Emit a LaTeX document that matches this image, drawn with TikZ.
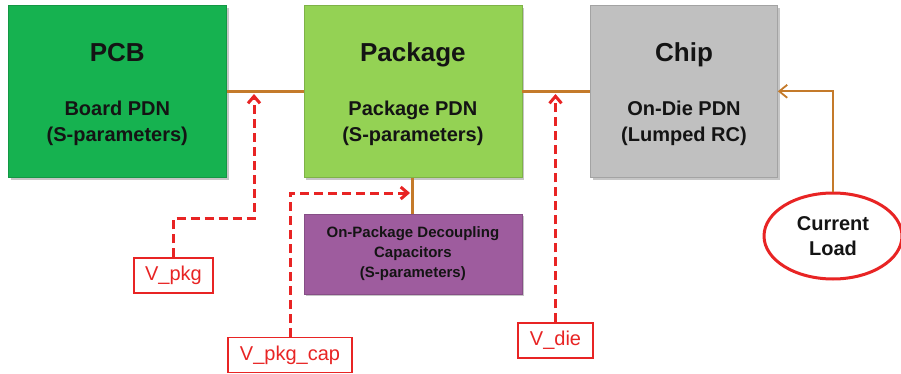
\documentclass[tikz,border=0pt]{standalone}
\usepackage{fontspec}
\setmainfont{Liberation Sans}
\usepackage{tikz}
\usetikzlibrary{shapes.geometric,arrows.meta,positioning,shadows}
\definecolor{pcbgreen}{RGB}{22,178,80}
\definecolor{pkggreen}{RGB}{148,210,84}
\definecolor{chipgray}{RGB}{192,192,192}
\definecolor{capviolet}{RGB}{158,92,158}
\definecolor{railbrown}{RGB}{196,122,42}
\definecolor{probered}{RGB}{232,36,36}
\definecolor{inkdark}{RGB}{20,20,20}
\tikzset{
  block/.style={rectangle, draw=#1!85!black, line width=0.6pt, fill=#1,
    minimum width=218pt, minimum height=172pt, inner sep=0pt,
    drop shadow={opacity=0.45, shadow xshift=2.5pt, shadow yshift=-2.5pt}},
  ttl/.style={font=\bfseries\fontsize{26}{30}\selectfont, text=inkdark,
    anchor=base, inner sep=0pt},
  sub/.style={font=\bfseries\fontsize{20}{26}\selectfont, text=inkdark,
    align=center, inner sep=0pt},
  rail/.style={railbrown, line width=3pt},
  feed/.style={-{Straight Barb[length=8pt, width=13pt]}, railbrown, line width=1.8pt},
  probe/.style={-{Straight Barb[length=7pt, width=12pt]}, probered,
    line width=3pt, dash pattern=on 9pt off 5pt},
  tag/.style={rectangle, draw=probered, line width=1.5pt, fill=white,
    text=probered, font=\fontsize{20}{24}\selectfont, minimum height=35pt,
    inner xsep=5pt},
  load/.style={ellipse, draw=probered, line width=3pt, fill=white,
    minimum width=138pt, minimum height=86pt, inner sep=0pt, align=center,
    font=\bfseries\fontsize{20}{25}\selectfont, text=inkdark}
}
\begin{document}
\begin{tikzpicture}[x=1pt, y=-1pt, node distance=77pt]
  \useasboundingbox (0,0) rectangle (901,374);
  % main blocks
  \node[block=pcbgreen, anchor=north west] (pcb) at (8,5) {};
  \node[block=pkggreen, right=of pcb] (pkg) {};
  \node[block=chipgray, minimum width=187pt, right=68pt of pkg] (chip) {};
  \node[block=capviolet, minimum height=80pt, below=36pt of pkg, align=center,
    text=inkdark, font=\bfseries\fontsize{15}{20}\selectfont] (cap)
    {On-Package Decoupling\\Capacitors\\(S-parameters)};
  \node[ttl] (pcbT) at ([yshift=-57pt]pcb.north) {PCB};
  \node[sub] (pcbS) at ([yshift=-32pt]pcb.center) {Board PDN\\(S-parameters)};
  \node[ttl] (pkgT) at ([yshift=-57pt]pkg.north) {Package};
  \node[sub] (pkgS) at ([yshift=-32pt]pkg.center) {Package PDN\\(S-parameters)};
  \node[ttl] (chipT) at ([yshift=-57pt]chip.north) {Chip};
  \node[sub] (chipS) at ([yshift=-32pt]chip.center) {On-Die PDN\\(Lumped RC)};
  % load and probes
  \node[load] (load) at (833,236) {Current\\Load};
  \node[tag, minimum width=79pt] (vpkg) at (173.5,275.5) {V\_pkg};
  \node[tag, minimum width=124pt] (vcap) at (290,355) {V\_pkg\_cap};
  \node[tag, minimum width=75pt] (vdie) at (555.5,340.5) {V\_die};
  \coordinate (tapPkg) at (254,94);
  \coordinate (tapDie) at (556,94);
  \coordinate (tapCap) at (410,193);
  \draw[rail] (pcb.east) -- (pkg.west);
  \draw[rail] (pkg.east) -- (chip.west);
  \draw[rail] (pkg.south) -- (cap.north);
  \draw[feed] (load.north) |- (chip.east);
  \draw[probe] (vpkg.north) -- ++(0,-39) -| (tapPkg);
  \draw[probe] (vcap.north) |- (tapCap);
  \draw[probe] (vdie.north) -- (vdie.north |- tapDie);
\end{tikzpicture}
\end{document}
